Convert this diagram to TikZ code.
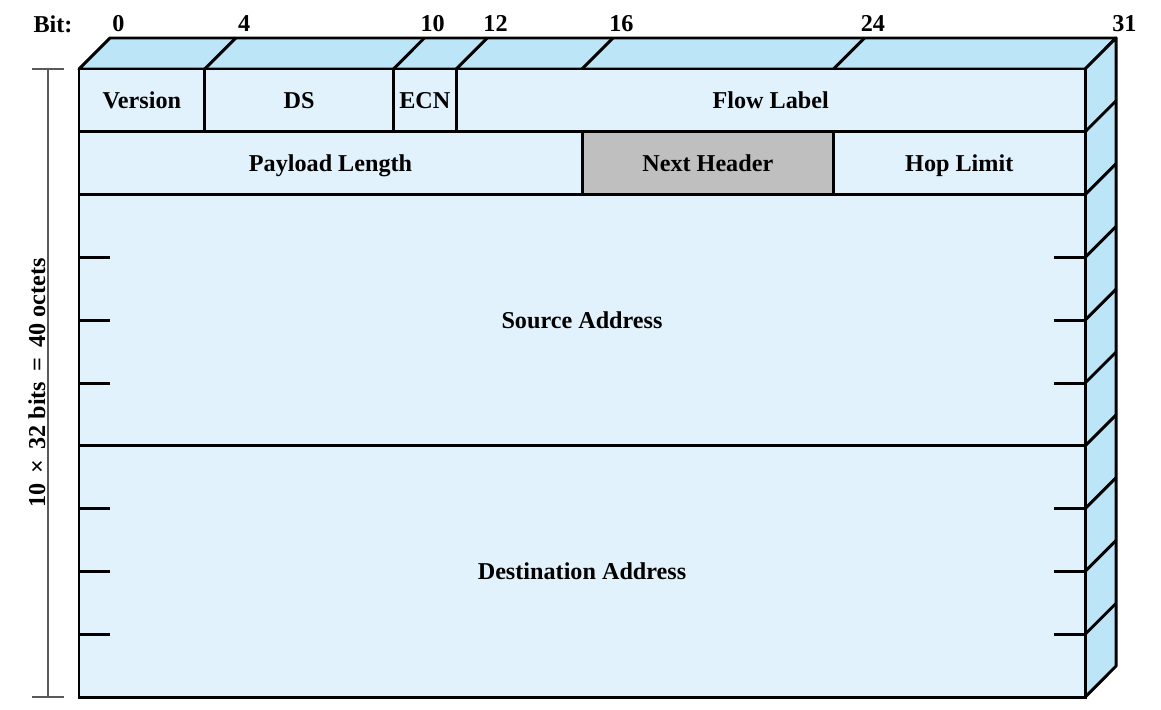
\documentclass[tikz,border=0pt]{standalone}
\usepackage{fontspec}
\setmainfont{Liberation Serif}
\usetikzlibrary{calc,positioning}
\definecolor{frontblue}{HTML}{E1F2FC}
\definecolor{sideblue}{HTML}{BDE5F8}
\definecolor{hdrgrey}{HTML}{BFBFBF}
\tikzset{>=latex}
\newcommand{\bitw}{0.7859cm}
\newcommand{\wordh}{1.57cm}

\begin{document}
\begin{tikzpicture}[x=0.7859cm, y=-1.57cm,
    every node/.style={font=\fontsize{17.2}{20}\selectfont\bfseries},
    field/.style={draw, line width=2.1pt, fill=frontblue, inner sep=0pt, outer sep=0pt,
      minimum height=\wordh, text height=12pt, text depth=0.6pt},
    face/.style={draw, line width=2.1pt, fill=sideblue, line join=round},
    edge/.style={line width=2.1pt},
    dim/.style={draw=black!65, line width=0.9pt}]
      \useasboundingbox (-2.513,-1.099) rectangle (34.415,10.191);

      % corners of the front face
      \coordinate (ftl) at (0,0);
      \coordinate (ftr) at (32,0);
      \coordinate (fbr) at (32,10);

      % top and right faces
      \path[face] (ftl) -- ++(0.986,-0.494) -- ++(32,0) -- (ftr) -- cycle;
      \path[face] (ftr) -- ++(0.986,-0.494) -- ++(0,10) -- (fbr) -- cycle;

      % first word
      \node[field, minimum width=4*\bitw, anchor=north west] (ver) at (ftl) {Version};
      \node[field, minimum width=6*\bitw, right=0pt of ver] (ds) {DS};
      \node[field, minimum width=2*\bitw, right=0pt of ds] (ecn) {ECN};
      \node[field, minimum width=20*\bitw, right=0pt of ecn] (flow) {Flow Label};

      % second word
      \node[field, minimum width=16*\bitw, anchor=north west] (plen) at (ver.south west) {Payload Length};
      \node[field, minimum width=8*\bitw, fill=hdrgrey, right=0pt of plen] (nxt) {Next Header};
      \node[field, minimum width=8*\bitw, right=0pt of nxt] (hop) {Hop Limit};

      % addresses
      \node[field, minimum width=32*\bitw, minimum height=4*\wordh, anchor=north west] (src) at (plen.south west) {Source Address};
      \node[field, minimum width=32*\bitw, minimum height=4*\wordh, below=0pt of src] (dst) {Destination Address};

      % edges on the top face
      \foreach \b in {4,10,12,16,24}
        \draw[edge] (\b,0) -- ++(0.986,-0.494);

      % edges on the right face
      \foreach \w in {1,...,9}
        \draw[edge] (32,\w) -- ++(0.986,-0.494);

      % word ticks
      \foreach \w in {3,4,5,7,8,9} {
        \draw[edge] (0,\w) -- ++(0.986,0);
        \draw[edge] (32,\w) -- ++(-0.986,0);
      }

      % bit numbers
      \node (bitlbl) at (-0.827,-0.72) {Bit:};
      \foreach \b/\t in {0/0,4/4,10/10,12/12,16/16,24/24,32/31}
        \node (bit\t) at (\b+1.25,-0.72) {\t};

      % size of the header
      \coordinate (dimtop) at (-0.986,0);
      \coordinate (dimbot) at (-0.986,10);
      \draw[dim] (dimbot) -- node[sloped, above, inner sep=1.5pt] (dimlbl) {10 \,×\, 32 bits \,=\, 40 octets} (dimtop);
      \draw[dim] ($(dimtop)+(-0.51,0)$) -- ($(dimtop)+(0.51,0)$);
      \draw[dim] ($(dimbot)+(-0.51,0)$) -- ($(dimbot)+(0.51,0)$);
    \end{tikzpicture}
\end{document}
